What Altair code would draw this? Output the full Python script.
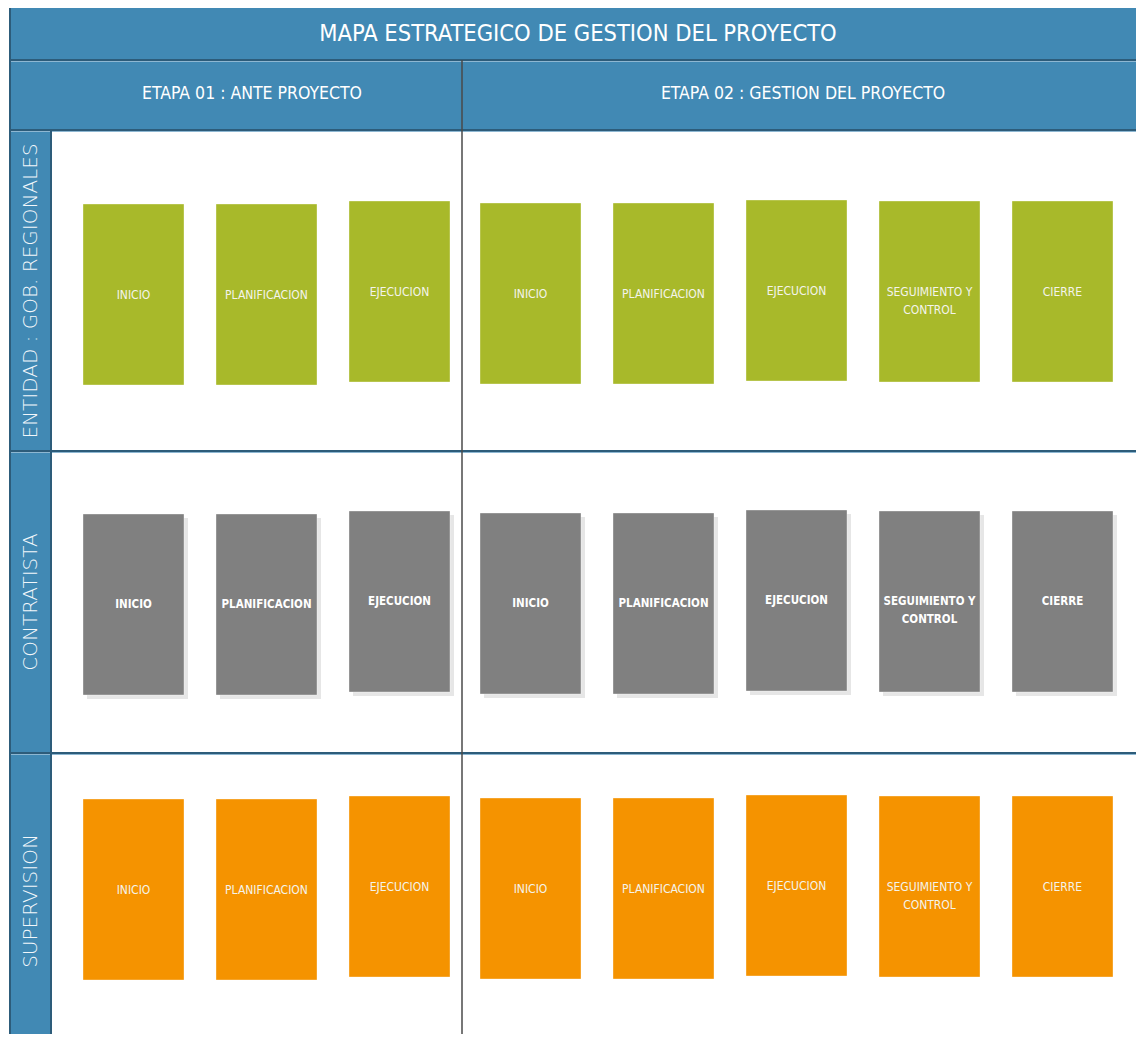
import altair as alt
import pandas as pd

# ---------------- content ----------------
title_text = "MAPA ESTRATEGICO DE GESTION DEL PROYECTO"
stages = ["ETAPA 01 : ANTE PROYECTO", "ETAPA 02 : GESTION DEL PROYECTO"]
actors = ["ENTIDAD : GOB. REGIONALES", "CONTRATISTA", "SUPERVISION"]
stage1_phases = ["INICIO", "PLANIFICACION", "EJECUCION"]
stage2_phases = ["INICIO", "PLANIFICACION", "EJECUCION", "SEGUIMIENTO Y\nCONTROL", "CIERRE"]

# ---------------- layout / style ----------------
X0, X1 = 10, 1144
LABEL_R = 51
DIV_X = 462
TITLE_Y = (6, 60)
HEAD_Y = (60, 130)
ROW_EDGES = [130, 451, 753, 1042]
ROW_BOX_TOP = [204, 514, 799]
BOX_H = 181
BOX_W = 101
COL_LEFT = [83, 216, 349, 480, 613, 746, 879, 1012]
COL_DY = [0, 0, -3, -1, -1, -4, -3, -3]
ROW_FILL = ["#A8B92A", "#808080", "#F59300"]
ROW_WEIGHT = ["normal", "bold", "normal"]
BLUE = "#4189B4"
DARK = "#2D5C7A"
NARROW = "Liberation Sans Narrow, DejaVu Sans Condensed, sans-serif"

# page has an 8px margin: chart pixel = reference pixel - 8
W, H = 1128, 1026
xs = alt.Scale(domain=[8, 8 + W], nice=False, zero=False)
ys = alt.Scale(domain=[8, 8 + H], nice=False, zero=False, reverse=True)


def X(f):
    return alt.X(f, type="quantitative", scale=xs, axis=None)


def Y(f):
    return alt.Y(f, type="quantitative", scale=ys, axis=None)


def X2(f):
    return alt.X2(f)


def Y2(f):
    return alt.Y2(f)


# background bands
bands = pd.DataFrame([
    dict(x=X0, x2=X1, y=TITLE_Y[0], y2=TITLE_Y[1], c=BLUE),
    dict(x=X0, x2=X1, y=HEAD_Y[0], y2=HEAD_Y[1], c=BLUE),
    dict(x=X0, x2=LABEL_R, y=ROW_EDGES[0], y2=ROW_EDGES[-1], c=BLUE),
])
bands_layer = alt.Chart(bands).mark_rect(clip=True).encode(
    x=X("x"), x2=X2("x2"), y=Y("y"), y2=Y2("y2"),
    color=alt.Color("c:N", scale=None),
)

# boxes
phases_all = [(0, p) for p in stage1_phases] + [(1, p) for p in stage2_phases]
rows = []
for r, actor in enumerate(actors):
    for ci, (st, ph) in enumerate(phases_all):
        top = ROW_BOX_TOP[r] + COL_DY[ci]
        left = COL_LEFT[ci]
        rows.append(dict(
            actor=actor, stage=stages[st], phase=ph,
            x=left, x2=left + BOX_W, y=top, y2=top + BOX_H,
            cx=left + BOX_W / 2, cy=top + BOX_H / 2,
            fill=ROW_FILL[r], weight=ROW_WEIGHT[r], row=r,
        ))
boxes = pd.DataFrame(rows)

shadow_layer = alt.Chart(boxes[boxes.row == 1]).mark_rect(color="#e6e6e6").encode(
    x=alt.X("sx:Q", scale=xs, axis=None), x2="sx2:Q",
    y=alt.Y("sy:Q", scale=ys, axis=None), y2="sy2:Q",
).transform_calculate(
    sx="datum.x + 4", sx2="datum.x2 + 4", sy="datum.y + 4", sy2="datum.y2 + 4"
)

box_layer = alt.Chart(boxes).mark_rect(stroke="#ffffff", strokeOpacity=0.35, strokeWidth=1).encode(
    x=X("x"), x2=X2("x2"), y=Y("y"), y2=Y2("y2"),
    color=alt.Color("fill:N", scale=None),
)

box_text_normal = alt.Chart(boxes[boxes.weight == "normal"]).mark_text(
    font=NARROW, fontSize=12, color="#F4F4EC", align="center", baseline="middle",
    lineBreak="\n", lineHeight=18,
).encode(x=X("cx"), y=Y("cy"), text="phase:N")

box_text_bold = alt.Chart(boxes[boxes.weight == "bold"]).mark_text(
    font=NARROW, fontSize=11.5, fontWeight="bold", color="#FFFFFF", align="center",
    baseline="middle", lineBreak="\n", lineHeight=18,
).encode(x=X("cx"), y=Y("cy"), text="phase:N")

# lines
hlines = pd.DataFrame([
    dict(x=X0, x2=X1, y=v) for v in [TITLE_Y[1], HEAD_Y[1], ROW_EDGES[1], ROW_EDGES[2]]
])
hline_light = alt.Chart(hlines).mark_rule(color="#8DB7D2", strokeWidth=1, clip=True).encode(
    x=X("x"), x2=X2("x2"), y=alt.Y("yy:Q", scale=ys, axis=None)
).transform_calculate(yy="datum.y + 1.5")
hline_layer = alt.Chart(hlines).mark_rule(color=DARK, strokeWidth=2, clip=True).encode(
    x=X("x"), x2=X2("x2"), y=Y("y")
)
vlines = pd.DataFrame([
    dict(x=X0, y=TITLE_Y[0], y2=1042, c=DARK, w=2),
    dict(x=LABEL_R, y=ROW_EDGES[0], y2=1042, c=DARK, w=2),
    dict(x=DIV_X, y=HEAD_Y[0], y2=1042, c="#4a4a4a", w=1.5),
])
vline_layer = alt.Chart(vlines).mark_rule(clip=True).encode(
    x=X("x"), y=Y("y"), y2=Y2("y2"),
    color=alt.Color("c:N", scale=None),
    strokeWidth=alt.StrokeWidth("w:Q", scale=None),
)

# title & headers
title_df = pd.DataFrame([dict(t=title_text, x=578, y=34)])
title_layer = alt.Chart(title_df).mark_text(
    font=NARROW, fontSize=23.5, color="white", align="center", baseline="middle"
).encode(x=X("x"), y=Y("y"), text="t:N")

head_df = pd.DataFrame([
    dict(t=stages[0], x=252, y=(HEAD_Y[0] + HEAD_Y[1]) / 2 - 1),
    dict(t=stages[1], x=803, y=(HEAD_Y[0] + HEAD_Y[1]) / 2 - 1),
])
head_layer = alt.Chart(head_df).mark_text(
    font=NARROW, fontSize=17.5, color="white", align="center", baseline="middle"
).encode(x=X("x"), y=Y("y"), text="t:N")

actor_df = pd.DataFrame([
    dict(t=a, x=31, y=[291, 602, 901][i])
    for i, a in enumerate(actors)
])
actor_layer = alt.Chart(actor_df).mark_text(
    font="DejaVu Sans", fontWeight=200, fontSize=20, color="#F2F7FB", align="center",
    baseline="middle", angle=270,
).encode(x=X("x"), y=Y("y"), text="t:N")

chart = alt.layer(
    bands_layer, shadow_layer, box_layer, box_text_normal, box_text_bold,
    hline_light, hline_layer, vline_layer, title_layer, head_layer, actor_layer,
).properties(
    width=W, height=H, padding=0, autosize=alt.AutoSizeParams(type="none"),
    background="white",
).configure_view(stroke=None)

chart.save("out.html", embed_options={"renderer": "svg", "actions": False})
